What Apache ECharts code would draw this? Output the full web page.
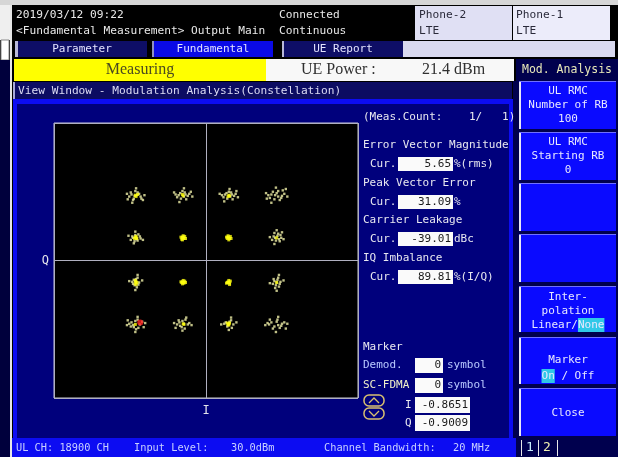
<!DOCTYPE html>
<html>
<head>
<meta charset="utf-8">
<script src="https://cdn.jsdelivr.net/npm/echarts@6.0.0/dist/echarts.min.js"></script>
<style>
html, body { margin: 0; padding: 0; background: #000; }
#main { width: 618px; height: 457px; }
</style>
</head>
<body>
<div id="main"></div>
<script>
// constellation points [I, Q] (16QAM, axes -2..2)
const outerPale = [
  [-0.98,0.96],[-0.90,0.99],[-0.86,0.93],[-0.95,0.90],[-1.01,0.93],[-0.88,0.97],[-0.93,1.01],[-0.96,0.88],[-0.85,0.90],[-0.91,0.95],[-0.99,0.99],[-0.94,0.94],
  [-0.36,0.95],[-0.28,0.99],[-0.24,0.94],[-0.33,0.90],[-0.38,0.92],[-0.26,0.89],[-0.31,1.01],[-0.22,0.97],[-0.34,0.98],[-0.29,0.93],[-0.40,0.96],[-0.27,0.96],
  [0.25,0.96],[0.33,0.99],[0.37,0.94],[0.28,0.90],[0.23,0.92],[0.35,0.89],[0.30,1.00],[0.39,0.97],[0.27,0.98],[0.32,0.93],[0.21,0.95],[0.34,0.96],
  [0.86,0.96],[0.95,1.01],[1.00,0.94],[0.90,0.89],[0.84,0.91],[0.97,0.88],[0.93,0.98],[1.03,0.97],[0.88,1.00],[0.95,0.93],[0.82,0.95],[0.99,0.91],[0.91,0.95],[1.01,1.02],
  [-0.97,0.35],[-0.89,0.38],[-0.86,0.32],[-0.94,0.28],[-0.99,0.30],[-0.90,0.29],[-0.93,0.37],[-0.87,0.35],[-0.96,0.33],[-0.91,0.31],
  [0.89,0.35],[0.95,0.39],[0.99,0.33],[0.92,0.29],[0.87,0.30],[0.97,0.28],[0.94,0.36],[0.90,0.40],[0.96,0.31],[0.91,0.33],[0.98,0.37],
  [-0.95,-0.28],[-0.90,-0.25],[-0.88,-0.32],[-0.94,-0.36],[-0.97,-0.31],[-0.91,-0.39],[-0.93,-0.30],[-0.89,-0.35],[-0.96,-0.34],[-0.92,-0.27],
  [0.90,-0.30],[0.95,-0.25],[0.98,-0.31],[0.92,-0.36],[0.88,-0.34],[0.96,-0.38],[0.94,-0.28],[0.91,-0.40],[0.97,-0.34],[0.93,-0.32],[0.89,-0.27],
  [-0.98,-0.90],[-0.90,-0.86],[-0.87,-0.93],[-0.95,-0.97],[-1.01,-0.92],[-0.89,-0.98],[-0.93,-0.88],[-0.96,-0.94],[-0.84,-0.89],[-0.92,-1.00],[-0.99,-0.96],
  [-0.35,-0.90],[-0.27,-0.86],[-0.24,-0.93],[-0.32,-0.97],[-0.38,-0.93],[-0.28,-0.99],[-0.31,-0.88],[-0.22,-0.91],[-0.34,-0.95],[-0.29,-0.92],[-0.36,-0.87],
  [0.26,-0.90],[0.33,-0.87],[0.36,-0.93],[0.28,-0.96],[0.24,-0.92],[0.34,-0.98],[0.31,-0.89],[0.29,-0.94],
  [0.86,-0.90],[0.94,-0.86],[1.00,-0.92],[0.90,-0.96],[0.83,-0.93],[0.97,-0.98],[0.93,-0.89],[1.03,-0.90],[0.88,-0.99],[0.95,-0.94],[0.81,-0.91],[0.99,-0.95]
];
const outerFringe = [
  [-1.04,0.97],[-0.81,0.95],[-0.92,1.05],[-0.97,0.84],[-0.83,0.88],[-1.03,0.89],
  [-0.42,0.99],[-0.18,0.93],[-0.29,1.05],[-0.35,0.85],[-0.20,1.00],
  [0.18,0.97],[0.42,0.92],[0.31,1.04],[0.24,0.86],[0.40,1.01],
  [0.79,0.98],[1.07,0.93],[0.92,1.06],[0.86,0.84],[1.05,1.04],[0.80,0.90],
  [-1.02,0.36],[-0.83,0.30],[-0.93,0.42],[-0.95,0.25],
  [0.84,0.34],[1.02,0.31],[0.93,0.44],[0.90,0.24],[1.00,0.41],
  [-1.01,-0.30],[-0.84,-0.29],[-0.93,-0.43],[-0.90,-0.21],
  [0.84,-0.33],[1.02,-0.29],[0.93,-0.44],[0.96,-0.21],
  [-1.04,-0.94],[-0.80,-0.91],[-0.93,-1.04],[-0.90,-0.82],[-1.03,-0.87],[-0.82,-0.97],
  [-0.42,-0.91],[-0.19,-0.94],[-0.31,-1.02],[-0.26,-0.83],[-0.40,-0.98],
  [0.20,-0.93],[0.40,-0.90],[0.30,-1.01],[0.33,-0.83],
  [0.78,-0.94],[1.07,-0.92],[0.92,-1.04],[0.95,-0.82],[1.05,-0.99],[0.84,-0.86]
];
const coreYellow = [
  [-0.31,0.34],[-0.29,0.32],[-0.32,0.31],[-0.28,0.35],[-0.30,0.33],[-0.33,0.34],[-0.27,0.32],[-0.30,0.36],[-0.31,0.30],
  [0.29,0.34],[0.31,0.32],[0.28,0.32],[0.32,0.35],[0.30,0.33],[0.27,0.34],[0.33,0.32],[0.30,0.30],[0.29,0.36],
  [-0.31,-0.31],[-0.29,-0.33],[-0.32,-0.32],[-0.28,-0.30],[-0.30,-0.32],[-0.31,-0.34],[-0.27,-0.32],[-0.30,-0.29],[-0.33,-0.31],
  [0.29,-0.31],[0.31,-0.33],[0.28,-0.32],[0.32,-0.30],[0.30,-0.32],[0.27,-0.33],[0.31,-0.35],[0.30,-0.29],
  [-0.93,0.95],[-0.90,0.96],[-0.92,0.93],[-0.30,0.94],[-0.31,0.96],[0.30,0.95],[0.29,0.93],[0.31,0.94],
  [-0.92,0.33],[-0.93,0.34],[-0.91,0.32],[-0.92,0.35],[-0.94,0.32],
  [-0.92,-0.31],[-0.93,-0.33],[-0.91,-0.32],[-0.92,-0.35],[-0.93,-0.29],
  [0.93,0.33],[0.93,-0.32],[-0.93,-0.93],[-0.30,-0.92],[-0.29,-0.93],
  [0.30,-0.92],[0.29,-0.93],[0.31,-0.91],[0.30,-0.94],[0.28,-0.91]
];
const markerPoint = [[-0.8651, -0.9009]];

// screen texts
const headerLeft = ['2019/03/12 09:22', '<Fundamental Measurement> Output Main'];
const headerMid = ['Connected', 'Continuous'];
const phones = [['Phone-2', 'LTE'], ['Phone-1', 'LTE']];
const tabs = ['Parameter', 'Fundamental', 'UE Report'];
const measCount = '(Meas.Count:    1/   1)';
const measLabels = ['Error Vector Magnitude', 'Peak Vector Error', 'Carrier Leakage', 'IQ Imbalance'];
const measValues = ['5.65', '31.09', '-39.01', '89.81'];
const measUnits = ['%(rms)', '%', 'dBc', '%(I/Q)'];
const markerIQ = ['-0.8651', '-0.9009'];
const statusTexts = ['UL CH: 18900 CH', 'Input Level:', '30.0dBm', 'Channel Bandwidth:', '20 MHz'];

const MONO = '"DejaVu Sans Mono", monospace';
const SERIF = '"Liberation Serif", serif';
const CW = 6.62; // char width at 11px

const els = [];
function rect(x, y, w, h, fill, extra) {
  els.push(Object.assign({ type: 'rect', z: -5, silent: true,
    shape: { x: x, y: y, width: w, height: h }, style: { fill: fill } }, extra || {}));
}
function text(x, y, s, fill, size, align, fam) {
  els.push({ type: 'text', z: 5, silent: true, x: x, y: y,
    style: { text: s, fill: fill, font: (size || 11) + 'px ' + (fam || MONO),
      align: align || 'left', textAlign: align || 'left',
      verticalAlign: 'middle', textVerticalAlign: 'middle' } });
}

// frame / background
rect(0, 0, 618, 457, '#000');
rect(0, 0, 618, 5, '#d6d6d6');
rect(0, 5, 10, 35, '#efefef');
rect(1, 40, 8, 20, '#fff', { style: { fill: '#fff', stroke: '#888', lineWidth: 1 } });
rect(0, 60, 10, 397, '#00003c');
rect(10, 5, 2, 452, '#e6e6e6');

// header
text(16, 15, headerLeft[0], '#e8e8e8', 11.2);
text(16, 31, headerLeft[1], '#e8e8e8', 11.2);
text(279, 15, headerMid[0], '#e8e8e8', 11.2);
text(279, 31, headerMid[1], '#e8e8e8', 11.2);
rect(415, 6, 97, 34, '#e0e0f4');
rect(513, 6, 97, 34, '#ececfa');
text(419, 15, phones[0][0], '#2a2a3a', 11.2);
text(419, 31, phones[0][1], '#2a2a3a', 11.2);
text(516, 15, phones[1][0], '#2a2a3a', 11.2);
text(516, 31, phones[1][1], '#2a2a3a', 11.2);

// tabs
rect(15, 41, 132, 16, '#0e0e66'); rect(15, 41, 3, 16, '#b8b8d8');
rect(152, 41, 121, 16, '#0a0ae6'); rect(152, 41, 2, 16, '#9090c0');
rect(282, 41, 121, 16, '#0e0e66'); rect(282, 41, 2, 16, '#b8b8d8');
rect(403, 41, 212, 16, '#dadaf0');
text(82, 49, tabs[0], '#e4e4ff', 11, 'center');
text(213, 49, tabs[1], '#e4e4ff', 11, 'center');
text(343, 49, tabs[2], '#e4e4ff', 11, 'center');

// measuring row
rect(14, 59, 252, 22, '#ffff00');
rect(266, 59, 248, 22, '#f8f8f8');
rect(516, 59, 102, 22, '#00004e');
text(140, 70, 'Measuring', '#4a4a20', 16, 'center', SERIF);
text(301, 70, 'UE Power :', '#303030', 16, 'left', SERIF);
text(422, 70, '21.4 dBm', '#303030', 16, 'left', SERIF);
text(567, 70, 'Mod. Analysis', '#e8e8b8', 11.5, 'center');

// view window bar
rect(13, 82, 499, 17, '#0c0c62'); rect(13, 82, 2, 17, '#a8a8d8');
text(18, 91, 'View Window - Modulation Analysis(Constellation)', '#dcdcf4', 11.2);

// main panel
rect(13, 99, 500, 339, '#0c0cf2');
rect(17, 104, 492, 334, '#00007c');

// measurement results
const TXT = '#e8e8f0';
text(363, 117, measCount, TXT);
const rowY = [145, 183, 220, 258];
measLabels.forEach(function (lab, i) {
  const y = rowY[i], cy = y + 19;
  text(363, y, lab, TXT);
  text(370, cy, 'Cur.', TXT);
  rect(398, cy - 7, 55, 14, '#fafafa', { z: 1 });
  text(451, cy, measValues[i], '#1a1a1a', 11, 'right');
  text(454, cy, measUnits[i], TXT);
});

// marker block
text(363, 347, 'Marker', TXT);
text(363, 365, 'Demod.', '#b8c8ff');
rect(415, 358, 28, 15, '#fafafa', { z: 1 });
text(441, 365, '0', '#1a1a1a', 11, 'right');
text(447, 365, 'symbol', '#b8c8ff');
text(363, 385, 'SC-FDMA', '#f0f0c8');
rect(415, 378, 28, 15, '#fafafa', { z: 1 });
text(441, 385, '0', '#1a1a1a', 11, 'right');
text(447, 385, 'symbol', '#b8c8ff');
text(405, 405, 'I', TXT);
rect(415, 397, 55, 16, '#fafafa', { z: 1 });
text(468, 405, markerIQ[0], '#1a1a1a', 11, 'right');
text(405, 423, 'Q', TXT);
rect(415, 415, 55, 16, '#fafafa', { z: 1 });
text(468, 423, markerIQ[1], '#1a1a1a', 11, 'right');
// knob icon
els.push({ type: 'rect', z: 5, silent: true, shape: { x: 364, y: 395, width: 20, height: 11, r: 5 },
  style: { fill: 'none', stroke: '#d8c070', lineWidth: 1.5 } });
els.push({ type: 'rect', z: 5, silent: true, shape: { x: 364, y: 408, width: 20, height: 11, r: 5 },
  style: { fill: 'none', stroke: '#d8c070', lineWidth: 1.5 } });
els.push({ type: 'polyline', z: 5, silent: true, shape: { points: [[369, 403], [374, 398], [379, 403]] },
  style: { fill: 'none', stroke: '#d8c070', lineWidth: 1.3 } });
els.push({ type: 'polyline', z: 5, silent: true, shape: { points: [[369, 411], [374, 416], [379, 411]] },
  style: { fill: 'none', stroke: '#d8c070', lineWidth: 1.3 } });

// status bar
rect(12, 438, 504, 19, '#0c0cf2');
rect(516, 438, 102, 19, '#00004e');
const statusX = [16, 134, 231, 324, 453];
statusTexts.forEach(function (s, i) { text(statusX[i], 448, s, '#c8d0ff', 10.3); });
rect(521, 440, 1, 16, '#e8e8e8'); rect(538, 440, 1, 16, '#e8e8e8'); rect(557, 440, 1, 16, '#e8e8e8');
text(530, 448, '1', '#c8f0ff', 13, 'center');
text(547, 448, '2', '#f0f0b0', 13, 'center');

// soft keys
rect(513, 81, 105, 357, '#00004e');
const softKeys = [
  { top: 81, h: 48, lines: [['UL RMC', 91], ['Number of RB', 105], ['100', 119]] },
  { top: 132, h: 48, lines: [['UL RMC', 142], ['Starting RB', 156], ['0', 170]] },
  { top: 183, h: 48, lines: [] },
  { top: 234, h: 48, lines: [] },
  { top: 286, h: 46, lines: [['Inter-', 297], ['polation', 311], ['Linear/None', 325]] },
  { top: 337, h: 47, lines: [['Marker', 360], ['On / Off', 376]] },
  { top: 388, h: 48, lines: [['Close', 413]] }
];
const KX = 568;
softKeys.forEach(function (k) {
  rect(519, k.top, 97, k.h, '#0a0aff');
  rect(519, k.top, 2, k.h, '#e8e8f8');
  rect(519, k.top, 97, 1, '#7070ff');
});
// highlighted choices
rect(KX - 11 * CW / 2 + 7 * CW, 318, 4 * CW, 14, '#30c8e8', { z: -1 });
rect(KX - 8 * CW / 2, 369, 2 * CW, 14, '#30c8e8', { z: -1 });
softKeys.forEach(function (k) {
  k.lines.forEach(function (l) { text(KX, l[1], l[0], '#e8e8ff', 11, 'center'); });
});

const chart = echarts.init(document.getElementById('main'));
chart.setOption({
  animation: false,
  backgroundColor: '#000',
  graphic: { elements: els },
  grid: {
    left: 54, top: 123, width: 304, height: 275,
    show: true, backgroundColor: '#000', borderColor: '#c4c4d4', borderWidth: 1,
    containLabel: false, outerBoundsMode: 'none'
  },
  xAxis: {
    type: 'value', min: -2, max: 2, interval: 2,
    axisLine: { show: false }, axisTick: { show: false }, axisLabel: { show: false },
    splitLine: { show: true, lineStyle: { color: '#b0b0c0', width: 1 } },
    name: 'I', nameLocation: 'middle', nameGap: 7,
    nameTextStyle: { color: '#e4e4ec', fontFamily: 'DejaVu Sans Mono', fontSize: 12, verticalAlign: 'top' }
  },
  yAxis: {
    type: 'value', min: -2, max: 2, interval: 2,
    axisLine: { show: false }, axisTick: { show: false }, axisLabel: { show: false },
    splitLine: { show: true, lineStyle: { color: '#b0b0c0', width: 1 } },
    name: 'Q', nameLocation: 'middle', nameRotate: 0, nameGap: 5,
    nameTextStyle: { color: '#e4e4ec', fontFamily: 'DejaVu Sans Mono', fontSize: 12 }
  },
  series: [
    { type: 'scatter', data: outerPale.concat(outerFringe), symbol: 'rect', symbolSize: 2.4, silent: true,
      itemStyle: { color: '#efefa8' } },
    { type: 'scatter', data: coreYellow, symbol: 'rect', symbolSize: 3, silent: true,
      itemStyle: { color: '#ffff10' } },
    { type: 'scatter', data: markerPoint, symbol: 'circle', symbolSize: 6, silent: true,
      itemStyle: { color: '#ff2020' } }
  ]
});
</script>
</body>
</html>
